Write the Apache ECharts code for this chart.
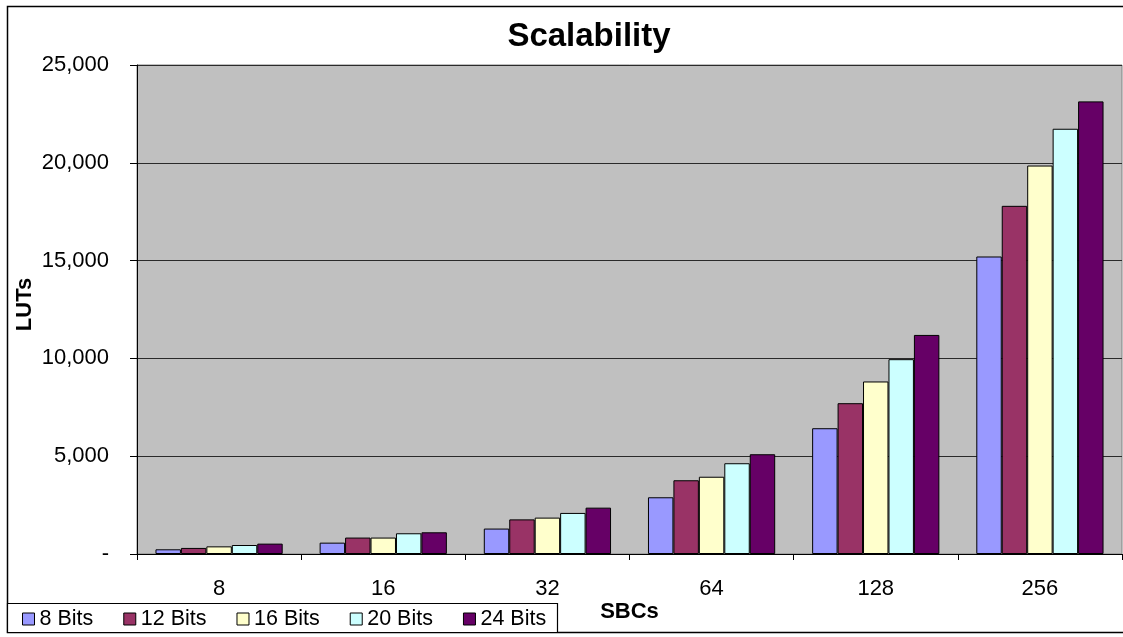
<!DOCTYPE html>
<html>
<head>
<meta charset="utf-8">
<title>Scalability</title>
<script src="https://cdn.jsdelivr.net/npm/echarts@6/dist/echarts.min.js"></script>
<style>
  html, body { margin: 0; padding: 0; background: #ffffff; }
  #chart { width: 1123px; height: 637px; }
</style>
</head>
<body>
<div id="chart"></div>
<script>
// Number of SBCs on the x axis
const sbcs = ['8', '16', '32', '64', '128', '256'];

// LUT usage per word width
const bits8  = [240, 580, 1300, 2900, 6430, 15210];
const bits12 = [310, 840, 1770, 3770, 7710, 17800];
const bits16 = [390, 840, 1860, 3950, 8820, 19860];
const bits20 = [460, 1060, 2100, 4640, 9960, 21740];
const bits24 = [530, 1110, 2370, 5100, 11200, 23140];

const seriesNames = ['8 Bits', '12 Bits', '16 Bits', '20 Bits', '24 Bits'];
const seriesData = [bits8, bits12, bits16, bits20, bits24];
const seriesColors = ['#9999FF', '#993366', '#FFFFCC', '#CCFFFF', '#660066'];

const FONT = '"Liberation Sans", Arial, sans-serif';

const chart = echarts.init(document.getElementById('chart'), null, { renderer: 'canvas' });

chart.setOption({
  animation: false,
  backgroundColor: '#ffffff',
  textStyle: { fontFamily: FONT, color: '#000' },
  title: {
    text: 'Scalability',
    left: 589,
    textAlign: 'center',
    top: 20,
    padding: 0,
    textStyle: { fontFamily: FONT, fontSize: 33, fontWeight: 'bold', color: '#000' }
  },
  graphic: [
    {
      type: 'rect',
      silent: true,
      z: -1,
      shape: { x: 7.5, y: 6.5, width: 1125, height: 626 },
      style: { fill: null, stroke: '#000', lineWidth: 1.5 }
    },
    {
      type: 'rect',
      silent: true,
      z: 5,
      shape: { x: 7.5, y: 603.5, width: 550, height: 29 },
      style: { fill: '#fff', stroke: '#000', lineWidth: 1.2 }
    }
  ],
  legend: {
    data: seriesNames,
    left: 22,
    top: 608,
    padding: 0,
    z: 10,
    icon: 'rect',
    itemWidth: 12,
    itemHeight: 12,
    itemGap: 30,
    itemStyle: { borderColor: '#000', borderWidth: 1 },
    textStyle: { fontFamily: FONT, fontSize: 21.5, color: '#000', padding: [0, 0, 0, 0] }
  },
  grid: {
    left: 137,
    top: 65,
    right: 1,
    bottom: 83,
    show: true,
    backgroundColor: '#c0c0c0',
    borderColor: '#808080',
    borderWidth: 1,
    containLabel: false
  },
  xAxis: {
    type: 'category',
    data: sbcs,
    name: 'SBCs',
    nameLocation: 'middle',
    nameGap: 47,
    nameMoveOverlap: false,
    nameTextStyle: { fontFamily: FONT, fontSize: 22, fontWeight: 'bold', color: '#000' },
    axisLine: { show: true, lineStyle: { color: '#000', width: 1 } },
    axisTick: { show: true, length: 6, lineStyle: { color: '#000' } },
    axisLabel: { margin: 24, fontFamily: FONT, fontSize: 22, color: '#000' },
    splitLine: { show: false }
  },
  yAxis: {
    type: 'value',
    min: 0,
    max: 25000,
    interval: 5000,
    name: 'LUTs',
    nameLocation: 'middle',
    nameGap: 101,
    nameMoveOverlap: false,
    nameTextStyle: { fontFamily: FONT, fontSize: 22, fontWeight: 'bold', color: '#000', padding: [0, 0, 0, 10] },
    axisLine: { show: true, lineStyle: { color: '#000', width: 1 } },
    axisTick: { show: true, inside: false, length: 7, lineStyle: { color: '#000' } },
    axisLabel: {
      margin: 28,
      fontFamily: FONT,
      fontSize: 22,
      color: '#000',
      formatter: function (v) { return v === 0 ? '-' : v.toLocaleString('en-US'); }
    },
    splitLine: { show: true, lineStyle: { color: '#2a2a2a', width: 1.2 } }
  },
  series: seriesNames.map(function (name, i) {
    return {
      name: name,
      type: 'bar',
      data: seriesData[i],
      barGap: '0%',
      barCategoryGap: '22.5%',
      itemStyle: { color: seriesColors[i], borderColor: '#000', borderWidth: 1 }
    };
  })
});
</script>
</body>
</html>
